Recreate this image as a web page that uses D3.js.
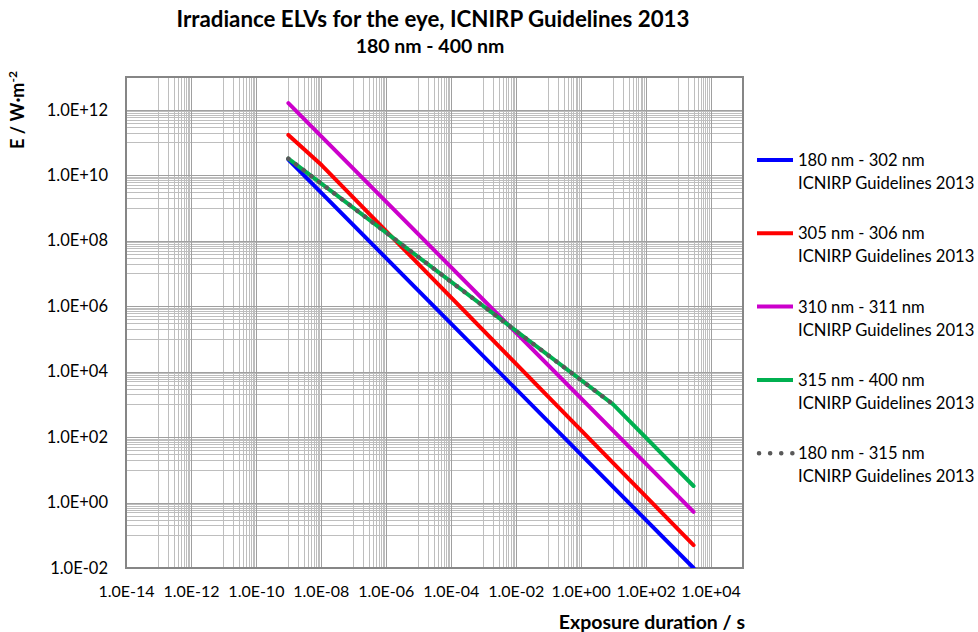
<!DOCTYPE html>
<html>
<head>
<meta charset="utf-8">
<script src="https://cdn.jsdelivr.net/npm/d3@7"></script>
<style>
    body { margin: 0; background: #ffffff; }
    svg { display: block; font-family: Lato, "Liberation Sans", sans-serif; }
</style>
</head>
<body>
<div class="chart"></div>
<script>
// axis ticks (Excel style log axis, base 100)
const xTickValues = [1e-14, 1e-12, 1e-10, 1e-8, 1e-6, 1e-4, 1e-2, 1e0, 1e2, 1e4];
const xTickLabels = ["1.0E-14", "1.0E-12", "1.0E-10", "1.0E-08", "1.0E-06", "1.0E-04", "1.0E-02", "1.0E+00", "1.0E+02", "1.0E+04"];
const yTickValues = [1e-2, 1e0, 1e2, 1e4, 1e6, 1e8, 1e10, 1e12];
const yTickLabels = ["1.0E-02", "1.0E+00", "1.0E+02", "1.0E+04", "1.0E+06", "1.0E+08", "1.0E+10", "1.0E+12"];

// series: exposure duration t / s and irradiance E / W m-2
const seriesNames = ["180 nm - 302 nm", "305 nm - 306 nm", "310 nm - 311 nm", "315 nm - 400 nm", "180 nm - 315 nm"];
const seriesNote = "ICNIRP Guidelines 2013";

const t180to302 = [1e-9, 3e3];
const e180to302 = [3.0e10, 1.0e-2];

const t305to306 = [1e-9, 1.07e-8, 3e3];
const e305to306 = [1.7e11, 2.0e10, 5.0e-2];

const t310to311 = [1e-9, 3e3];
const e310to311 = [1.6e12, 0.52];

const t315to400 = [1e-9, 10, 3e3];
const e315to400 = [3.2e10, 1.0e3, 3.2];

const t180to315 = [1e-9, 10];
const e180to315 = [3.2e10, 1.0e3];

const seriesColors = ["#0000ff", "#ff0000", "#cc00cc", "#00b050", "#595959"];

const width = 978;
const height = 632;
const plot = { left: 126, right: 743, top: 77, bottom: 568 };

const svg = d3.select(".chart")
    .append("svg")
    .attr("width", width)
    .attr("height", height);

const scale_x = d3.scaleLog()
    .domain([1e-14, 1e5])
    .range([plot.left, plot.right]);

const scale_y = d3.scaleLog()
    .domain([1e-2, 1e13])
    .range([plot.bottom, plot.top]);

// minor gridlines: 10,20..90 times each major value
function minorValues(majors, max) {
    let list = [];
    majors.forEach(v => {
        for (let k = 1; k <= 9; k++) {
            let m = v * 10 * k;
            if (m < max * 0.999) list.push(m);
        }
    });
    return list;
}

const xMinor = minorValues(xTickValues, 1e5);
const yMinor = minorValues(yTickValues, 1e13);

const grid = svg.append("g").attr("class", "grid");

grid.selectAll(".x-minor")
    .data(xMinor)
    .join("line")
    .attr("class", "x-minor")
    .attr("x1", d => Math.round(scale_x(d)) + 0.5)
    .attr("x2", d => Math.round(scale_x(d)) + 0.5)
    .attr("y1", plot.top)
    .attr("y2", plot.bottom)
    .attr("stroke", "#bebebe")
    .attr("stroke-width", 1);

grid.selectAll(".y-minor")
    .data(yMinor)
    .join("line")
    .attr("class", "y-minor")
    .attr("x1", plot.left)
    .attr("x2", plot.right)
    .attr("y1", d => Math.round(scale_y(d)) + 0.5)
    .attr("y2", d => Math.round(scale_y(d)) + 0.5)
    .attr("stroke", "#bebebe")
    .attr("stroke-width", 1);

grid.selectAll(".x-major")
    .data(xTickValues)
    .join("line")
    .attr("class", "x-major")
    .attr("x1", d => Math.round(scale_x(d)) + 0.5)
    .attr("x2", d => Math.round(scale_x(d)) + 0.5)
    .attr("y1", plot.top)
    .attr("y2", plot.bottom)
    .attr("stroke", "#a0a0a0")
    .attr("stroke-width", 1);

grid.selectAll(".y-major")
    .data(yTickValues)
    .join("line")
    .attr("class", "y-major")
    .attr("x1", plot.left)
    .attr("x2", plot.right)
    .attr("y1", d => Math.round(scale_y(d)) + 0.5)
    .attr("y2", d => Math.round(scale_y(d)) + 0.5)
    .attr("stroke", "#a0a0a0")
    .attr("stroke-width", 1);

// axes, labels only
const xAxis = d3.axisBottom(scale_x)
    .tickValues(xTickValues)
    .tickFormat((d, i) => xTickLabels[i])
    .tickSize(0)
    .tickPadding(18);

const yAxis = d3.axisLeft(scale_y)
    .tickValues(yTickValues)
    .tickFormat((d, i) => yTickLabels[i])
    .tickSize(0)
    .tickPadding(18);

svg.append("g")
    .attr("transform", `translate(0,${plot.bottom})`)
    .call(xAxis)
    .call(g => g.select(".domain").remove())
    .selectAll("text")
    .attr("font-family", "Lato, sans-serif")
    .attr("font-size", 16)
    .attr("fill", "#000");

svg.append("g")
    .attr("transform", `translate(${plot.left},0)`)
    .call(yAxis)
    .call(g => g.select(".domain").remove())
    .selectAll("text")
    .attr("font-family", "Lato, sans-serif")
    .attr("font-size", 16.5)
    .attr("fill", "#000");

// plot border
svg.append("rect")
    .attr("x", plot.left)
    .attr("y", plot.top)
    .attr("width", plot.right - plot.left)
    .attr("height", plot.bottom - plot.top)
    .attr("fill", "none")
    .attr("stroke", "#868686")
    .attr("stroke-width", 2);

svg.append("clipPath")
    .attr("id", "plot-clip")
    .append("rect")
    .attr("x", plot.left)
    .attr("y", plot.top)
    .attr("width", plot.right - plot.left)
    .attr("height", plot.bottom - plot.top);

const seriesList = [
    { t: t180to302, e: e180to302 },
    { t: t305to306, e: e305to306 },
    { t: t310to311, e: e310to311 },
    { t: t315to400, e: e315to400 },
    { t: t180to315, e: e180to315, dotted: true }
];

const line = d3.line()
    .x(d => scale_x(d[0]))
    .y(d => scale_y(d[1]));

svg.append("g")
    .attr("clip-path", "url(#plot-clip)")
    .selectAll(".series")
    .data(seriesList)
    .join("path")
    .attr("class", "series")
    .attr("d", s => line(d3.zip(s.t, s.e)))
    .attr("fill", "none")
    .attr("stroke", (s, i) => seriesColors[i])
    .attr("stroke-width", s => s.dotted ? 4.5 : 4)
    .attr("stroke-linecap", "round")
    .attr("stroke-linejoin", "round")
    .attr("stroke-dasharray", s => s.dotted ? "0.1 9.5" : null);

// legend
const legend = svg.append("g")
    .attr("class", "legend")
    .selectAll(".legend-item")
    .data(seriesNames)
    .join("g")
    .attr("class", "legend-item")
    .attr("transform", (d, i) => `translate(757,${160 + i * 73.3})`);

legend.append("line")
    .attr("x1", 0)
    .attr("x2", 36)
    .attr("y1", 0)
    .attr("y2", 0)
    .attr("stroke", (d, i) => seriesColors[i])
    .attr("stroke-width", (d, i) => i === 4 ? 4.5 : 4)
    .attr("stroke-linecap", (d, i) => i === 4 ? "round" : "butt")
    .attr("stroke-dasharray", (d, i) => i === 4 ? "0.1 11" : null)
    .attr("transform", (d, i) => i === 4 ? "translate(2,0)" : null);

legend.append("text")
    .attr("x", 41)
    .attr("y", 6)
    .attr("font-size", 16.6)
    .attr("fill", "#000")
    .text(d => d);

legend.append("text")
    .attr("x", 41)
    .attr("y", 29)
    .attr("font-size", 16.6)
    .attr("fill", "#000")
    .text(seriesNote);

// titles
svg.append("text")
    .attr("x", 433)
    .attr("y", 27)
    .attr("text-anchor", "middle")
    .attr("font-size", 22.3)
    .attr("font-weight", "bold")
    .text("Irradiance ELVs for the eye, ICNIRP Guidelines 2013");

svg.append("text")
    .attr("x", 430)
    .attr("y", 53)
    .attr("text-anchor", "middle")
    .attr("font-size", 19.5)
    .attr("font-weight", "bold")
    .text("180 nm - 400 nm");

svg.append("text")
    .attr("x", 745)
    .attr("y", 629)
    .attr("text-anchor", "end")
    .attr("font-size", 19.5)
    .attr("font-weight", "bold")
    .text("Exposure duration  / s");

const yLabel = svg.append("text")
    .attr("transform", "translate(24,110) rotate(-90)")
    .attr("text-anchor", "middle")
    .attr("font-size", 18)
    .attr("font-weight", "bold");

yLabel.append("tspan").text("E / W·m");
yLabel.append("tspan")
    .attr("dy", -7)
    .attr("font-size", 12)
    .text("-2");
</script>
</body>
</html>
